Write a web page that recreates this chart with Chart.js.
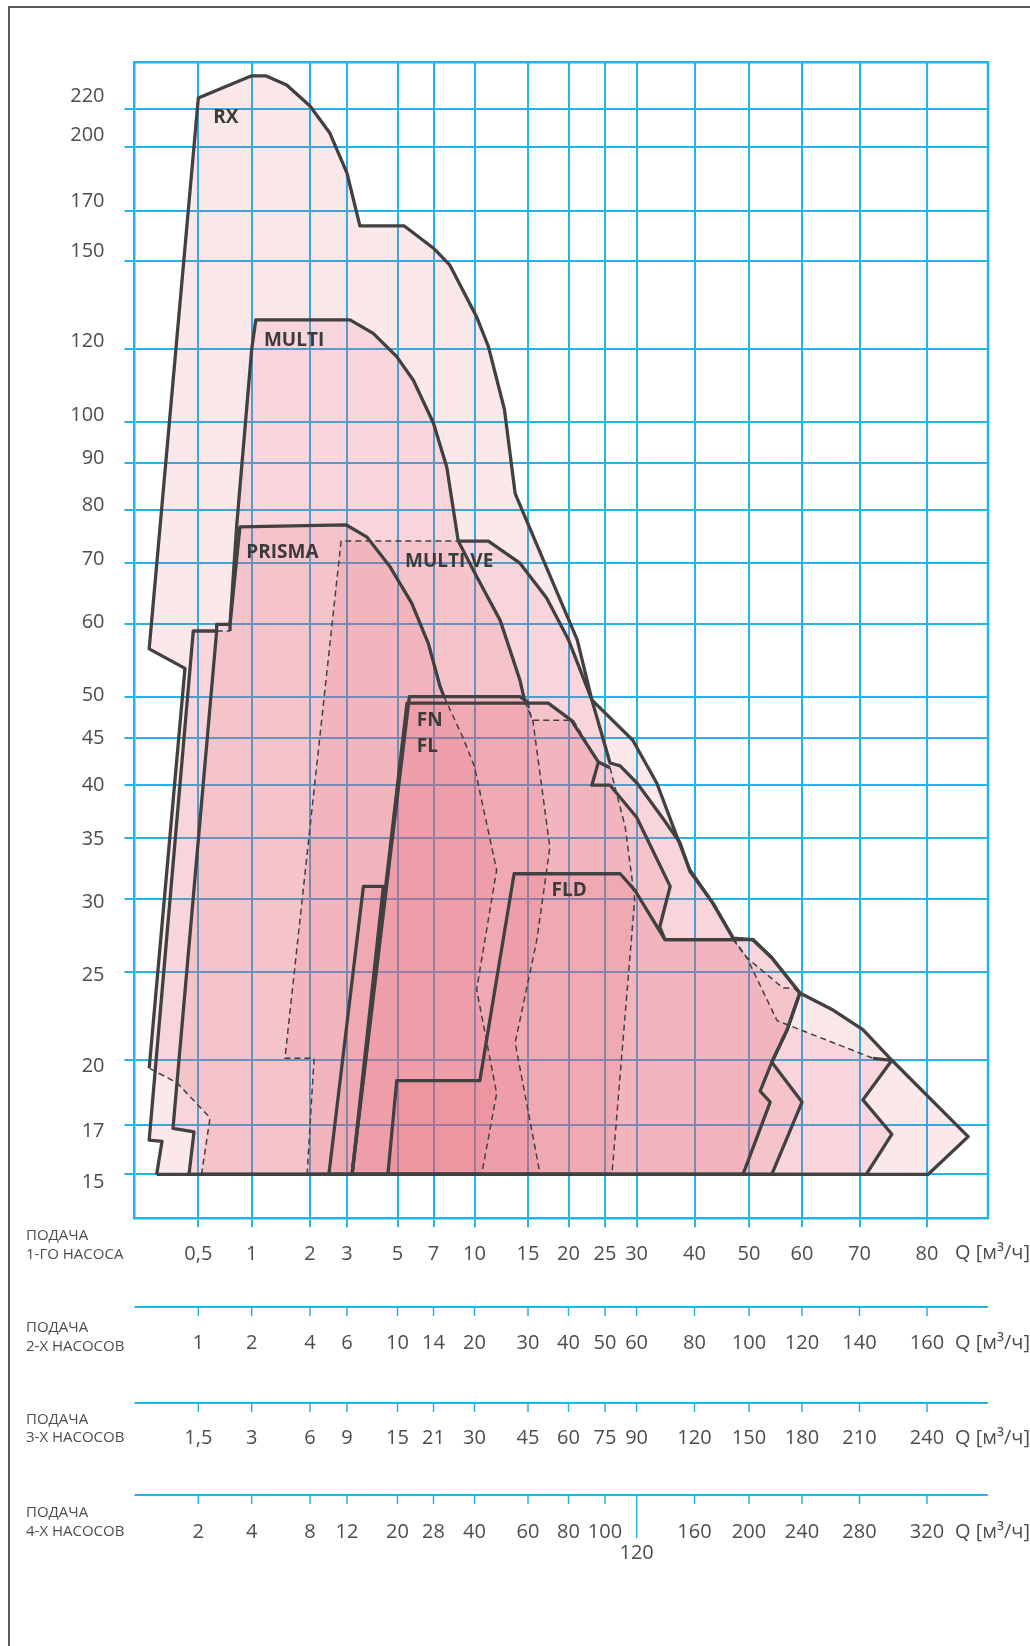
<!DOCTYPE html>
<html lang="ru">

<head>
    <meta charset="UTF-8">
    <title>Подача насосов</title>
    <script src="https://cdn.jsdelivr.net/npm/chart.js"></script>
    <style>
        html,
        body {
            margin: 0;
            padding: 0;
            background: #fff;
        }

        #wrap {
            width: 1030px;
            height: 1646px;
        }
    </style>
</head>

<body>
    <div id="wrap"><canvas id="pumpChart" width="1030" height="1646"></canvas></div>
    <script>
        // Q-as (1 pomp): tickwaarden en hun plaats op de ongelijke schaal (eenheden vanaf de linkerrand)
        var qTicks = [0.5, 1, 2, 3, 5, 7, 10, 15, 20, 25, 30, 40, 50, 60, 70, 80];
        var qUnits = [63.8, 117.2, 175.5, 212.5, 263, 299, 340, 393.5, 434, 470.5, 502.1, 560, 614.5, 667.5, 725, 792.5];
        var qSpan = 853.5;

        var q1Labels = ['0,5', '1', '2', '3', '5', '7', '10', '15', '20', '25', '30', '40', '50', '60', '70', '80'];
        var q2Labels = ['1', '2', '4', '6', '10', '14', '20', '30', '40', '50', '60', '80', '100', '120', '140', '160'];
        var q3Labels = ['1,5', '3', '6', '9', '15', '21', '30', '45', '60', '75', '90', '120', '150', '180', '210', '240'];
        var q4Labels = ['2', '4', '8', '12', '20', '28', '40', '60', '80', '100', '120', '160', '200', '240', '280', '320'];

        var hTicks = [15, 17, 20, 25, 30, 35, 40, 45, 50, 60, 70, 80, 90, 100, 120, 150, 170, 200, 220];
        var hMin = 13.43;
        var hMax = 247.3;
        // de cijfers staan op een iets rekkere schaal dan de lijnen
        var hLabelMin = 13.72;
        var hLabelMax = 239.5;

        // velden per serie: Q [m3/h], H [m], gestreepte segmenten
        var rxQ = [0.53, 0.61, 0.30, 0.04, 0.375, 0.04, 0.5, 1, 1.24, 1.6, 2, 2.54, 3, 3.51, 5.36, 7, 8.2, 10.2, 11.3, 12.8, 13.8, 21.2, 23.2, 29.4, 33.5, 37, 39.2, 43.4, 47.1, 50.75, 54.3, 59.6, 65.4, 70.5, 74.8, 86.1, 80.15];
        var rxH = [15, 17.3, 18.9, 19.6, 53.7, 56.4, 226, 239, 239, 233.5, 221.5, 206.8, 187, 163.8, 163.8, 154.8, 148.3, 130.2, 120.8, 103.1, 83.4, 57.7, 49.6, 44.8, 40.2, 35.1, 32.3, 29.7, 27.2, 27.1, 25.9, 23.7, 22.7, 21.6, 20, 16.5, 15];
        var rxDash = [0, 1, 2];

        var multiQ = [0.11, 0.16, 0.04, 0.453, 0.672, 0.672, 0.797, 0.86, 1, 1.07, 3.12, 4.04, 4.97, 5.88, 7, 7.97, 8.81, 10.2, 12.4, 14.25, 14.7, 15.6, 17.7, 16.1, 13.8, 16.5];
        var multiH = [15, 16.3, 16.35, 59, 59, 60, 60, 77.1, 120, 129.2, 129.2, 124.9, 117.8, 111, 99.6, 89.2, 74.0, 67.7, 60.6, 52.1, 49.4, 47.1, 34.2, 27.1, 20.9, 15];
        var multiDash = [20, 21, 22, 23, 24];

        var prismaQ = [0.413, 0.46, 0.263, 0.672, 0.797, 0.797, 0.89, 2.97, 3.78, 4.7, 5.79, 6.71, 7.48, 7.77, 9.16, 10.0, 12.07, 10.98, 10.2, 12.07, 10.67];
        var prismaH = [15, 16.7, 16.85, 59, 59, 60, 76.7, 77.1, 74.8, 69.4, 63.3, 57.2, 51.3, 50, 45.1, 41.9, 32.3, 27.1, 23.9, 18.4, 15];
        var prismaDash = [3, 13, 14, 15, 16, 17, 18, 19];

        var veQ = [1.95, 2.11, 1.57, 2.84, 8.81, 11.3, 14.25, 17.3, 20, 23.2, 25.8, 27.4, 30.1, 34.4, 37.5, 39.2, 43.4, 47.1, 49.6, 55.3, 72, 74.8, 70.5, 74.8, 71.0];
        var veH = [15, 20.1, 20.1, 74, 74, 74, 70, 64.1, 57.7, 49.6, 42.3, 42.0, 40.2, 36.9, 34.6, 32.2, 29.7, 27.2, 25.9, 22.1, 20.1, 20, 18.1, 16.6, 15];
        var veDash = [0, 1, 2, 3, 17, 18, 19];

        var smallQ = [2.51, 3.65, 4.44, 3.2];
        var smallH = [15, 31.0, 31.0, 15];
        var smallDash = [];

        var fnQ = [3.2, 5.66, 14.25, 15, 15.46, 20.66, 24.1, 25.8, 28.2, 29.7, 26.1];
        var fnH = [15, 50, 50, 49.3, 47.1, 47.1, 42.4, 41.8, 36.0, 30, 15];
        var fnDash = [3, 4, 5, 7, 8, 9];

        var flQ = [3.2, 5.53, 17.5, 20.4, 24.1, 23.2, 25.8, 30.0, 35.8, 34.0, 34.9, 50.75, 54.3, 59.6, 57.2, 54.3, 52.1, 54.0, 48.9];
        var flH = [15, 49.2, 49.2, 47.1, 42.4, 40, 40, 36.9, 31.0, 28.0, 27.1, 27.1, 25.9, 23.7, 21.6, 19.9, 18.5, 18.0, 15];
        var flDash = [];

        var fldQ = [4.62, 4.97, 10.5, 13.7, 27.4, 29.7, 34.9, 47.1, 49.6, 56.4, 58.7, 59.6, 57.2, 54.3, 60, 54.3];
        var fldH = [15, 19.0, 19.0, 32.0, 32.0, 30.7, 27.1, 27.1, 25.9, 24.0, 24.0, 23.7, 21.6, 19.9, 18.0, 15];
        var fldDash = [7, 8, 9];

        // namen van de series: tekst, Q, H (linkerkant van de tekst)
        var names = [
            ['RX', 0.64, 215],
            ['MULTI', 1.21, 122.6],
            ['PRISMA', 0.95, 71.8],
            ['MULTI VE', 5.42, 70.3],
            ['FN', 6.07, 47.1],
            ['FL', 6.07, 44.1],
            ['FLD', 17.9, 30.7]
        ];

        var gridBlue = '#22b3ea';
        var lineDark = '#414141';
        var textGrey = '#4d4d4d';
        var pink = 'rgba(226, 92, 112, 0.14)';

        // Q -> plaats op de x-as (lineair tussen de ticks)
        function qx(q) {
            var n = qTicks.length;
            var i = 0;
            if (q >= qTicks[n - 1]) {
                i = n - 2;
            } else if (q > qTicks[0]) {
                while (q > qTicks[i + 1]) i++;
            }
            var t = (q - qTicks[i]) / (qTicks[i + 1] - qTicks[i]);
            return qUnits[i] + t * (qUnits[i + 1] - qUnits[i]);
        }

        function points(qs, hs) {
            var pts = qs.map(function (q, i) { return { x: qx(q), y: hs[i] }; });
            pts.push(pts[0]);
            return pts;
        }

        var series = [
            [rxQ, rxH, rxDash],
            [multiQ, multiH, multiDash],
            [prismaQ, prismaH, prismaDash],
            [veQ, veH, veDash],
            [smallQ, smallH, smallDash],
            [fnQ, fnH, fnDash],
            [flQ, flH, flDash],
            [fldQ, fldH, fldDash]
        ];

        var datasets = [];
        series.forEach(function (s) {
            var pts = points(s[0], s[1]);
            var dash = s[2];
            datasets.push({
                data: pts,
                showLine: true,
                fill: 'shape',
                backgroundColor: pink,
                borderColor: 'rgba(0,0,0,0)',
                borderWidth: 0,
                pointRadius: 0,
                order: 2
            });
            datasets.push({
                data: pts,
                showLine: true,
                fill: false,
                borderColor: lineDark,
                borderWidth: 3.3,
                borderJoinStyle: 'round',
                pointRadius: 0,
                order: 1,
                segment: {
                    borderDash: function (c) { return dash.indexOf(c.p0DataIndex) >= 0 ? [6, 4] : []; },
                    borderWidth: function (c) { return dash.indexOf(c.p0DataIndex) >= 0 ? 1.5 : 3.3; }
                }
            });
        });

        // kader, extra Q-assen voor 2, 3 en 4 pompen, onderschriften
        var extrasPlugin = {
            id: 'extras',
            beforeDatasetsDraw: function (chart) {
                var a = chart.chartArea;
                var c = chart.ctx;
                c.save();
                c.strokeStyle = gridBlue;
                c.lineWidth = 2.5;
                c.beginPath();
                c.moveTo(a.left, a.top);
                c.lineTo(a.right, a.top);
                c.lineTo(a.right, a.bottom);
                c.stroke();
                c.restore();
            },
            afterDraw: function (chart) {
                var c = chart.ctx;
                var a = chart.chartArea;
                var xs = chart.scales.x;
                c.save();

                // paginakader
                c.strokeStyle = '#5c5c5c';
                c.lineWidth = 2;
                c.beginPath();
                c.moveTo(9, 1646);
                c.lineTo(9, 7);
                c.lineTo(1030, 7);
                c.stroke();

                var rows = [
                    { labels: q1Labels, line: null, text: 1253, cap: ['ПОДАЧА', '1-ГО НАСОСА'], capY: [1236, 1255] },
                    { labels: q2Labels, line: 1307, text: 1343, cap: ['ПОДАЧА', '2-Х НАСОСОВ'], capY: [1328, 1347] },
                    { labels: q3Labels, line: 1403, text: 1438, cap: ['ПОДАЧА', '3-Х НАСОСОВ'], capY: [1420, 1438] },
                    { labels: q4Labels, line: 1495, text: 1532, cap: ['ПОДАЧА', '4-Х НАСОСОВ'], capY: [1513, 1532] }
                ];

                rows.forEach(function (r, k) {
                    if (r.line !== null) {
                        c.strokeStyle = gridBlue;
                        c.lineWidth = 2;
                        c.beginPath();
                        c.moveTo(a.left, r.line);
                        c.lineTo(a.right, r.line);
                        c.stroke();
                        c.lineWidth = 1.5;
                        qUnits.forEach(function (u, i) {
                            var px = xs.getPixelForValue(u);
                            var low = (k === 3 && i === 10) ? r.line + 43 : r.line + 9;
                            c.beginPath();
                            c.moveTo(px, r.line);
                            c.lineTo(px, low);
                            c.stroke();
                        });
                        c.fillStyle = textGrey;
                        c.font = '20px "Open Sans"';
                        c.textAlign = 'center';
                        c.textBaseline = 'middle';
                        r.labels.forEach(function (t, i) {
                            var px = xs.getPixelForValue(qUnits[i]);
                            var py = (k === 3 && i === 10) ? r.text + 21 : r.text;
                            c.fillText(t, px, py);
                        });
                    }
                    c.fillStyle = textGrey;
                    c.font = '20px "Open Sans"';
                    c.textAlign = 'left';
                    c.textBaseline = 'middle';
                    c.fillText('Q [м³/ч]', 955, r.text);
                    c.font = '15px "Open Sans"';
                    c.fillText(r.cap[0], 26, r.capY[0]);
                    c.fillText(r.cap[1], 26, r.capY[1]);
                });
                c.restore();
            }
        };

        var namesPlugin = {
            id: 'names',
            afterDatasetsDraw: function (chart) {
                var c = chart.ctx;
                var xs = chart.scales.x;
                var ys = chart.scales.y;
                c.save();
                c.fillStyle = '#3b3b3b';
                c.font = 'bold 19px "Open Sans"';
                c.textAlign = 'left';
                c.textBaseline = 'middle';
                names.forEach(function (n) {
                    c.fillText(n[0], xs.getPixelForValue(qx(n[1])), ys.getPixelForValue(n[2]));
                });
                c.restore();
            }
        };

        function setHTicks(s) {
            s.ticks = hTicks.map(function (v) { return { value: v }; });
        }

        var ctx = document.getElementById('pumpChart').getContext('2d');
        new Chart(ctx, {
            type: 'scatter',
            data: { datasets: datasets },
            options: {
                responsive: false,
                animation: false,
                events: [],
                layout: { padding: { left: 0, top: 62.3, right: 42, bottom: 367.7 } },
                plugins: {
                    legend: { display: false },
                    tooltip: { enabled: false },
                    filler: { drawTime: 'beforeDatasetsDraw' }
                },
                scales: {
                    x: {
                        type: 'linear',
                        min: 0,
                        max: qSpan,
                        afterBuildTicks: function (s) {
                            s.ticks = qUnits.map(function (u) { return { value: u }; });
                        },
                        afterFit: function (s) { s.height = 60; },
                        ticks: {
                            autoSkip: false,
                            maxRotation: 0,
                            padding: 15,
                            color: textGrey,
                            font: { family: 'Open Sans', size: 20 },
                            callback: function (v, i) { return q1Labels[i]; }
                        },
                        grid: { color: gridBlue, lineWidth: 2, tickLength: 9 },
                        border: { color: gridBlue, width: 2.5 }
                    },
                    y: {
                        type: 'logarithmic',
                        position: 'left',
                        weight: 0,
                        min: hMin,
                        max: hMax,
                        afterBuildTicks: setHTicks,
                        afterFit: function (s) { s.width = 10; },
                        ticks: { display: false },
                        grid: { color: gridBlue, lineWidth: 2, tickLength: 10 },
                        border: { color: gridBlue, width: 2.5 }
                    },
                    yText: {
                        type: 'logarithmic',
                        position: 'left',
                        weight: 1,
                        min: hLabelMin,
                        max: hLabelMax,
                        afterBuildTicks: setHTicks,
                        afterFit: function (s) { s.width = 124.5; },
                        ticks: {
                            padding: 20,
                            color: textGrey,
                            font: { family: 'Open Sans', size: 20 },
                            callback: function (v) { return String(v); }
                        },
                        grid: { display: false, drawTicks: false },
                        border: { display: false }
                    }
                }
            },
            plugins: [extrasPlugin, namesPlugin]
        });
    </script>
</body>

</html>
